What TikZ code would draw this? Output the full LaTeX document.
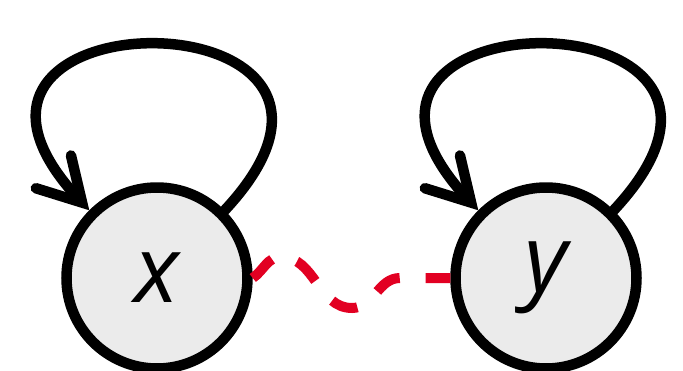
\documentclass[tikz,border=0pt]{standalone}
\usepackage{fontspec}
\newfontfamily\lblfont{Open Sans}
\usetikzlibrary{arrows.meta}
\definecolor{edgered}{RGB}{226,0,34}
\definecolor{nodegray}{RGB}{235,235,235}
\begin{document}
\begin{tikzpicture}[x=1pt,y=1pt,
  state/.style={circle, draw=black, line width=10.5pt, fill=nodegray, minimum size=181pt, inner sep=0pt, font=\lblfont\itshape\fontsize{93}{93}\selectfont},
  selfloop/.style={line width=10.5pt, line cap=round, -{Straight Barb[length=42pt,width=48pt,line cap=round]}},
  link/.style={draw=edgered, line width=10pt, dash pattern=on 27pt off 26pt}]
\useasboundingbox (0,0) rectangle (683,-370);
\node[state] (x) at (157,-278) {x};
\node[state] (y) at (546,-278) {y};
\draw[selfloop] (x.45) .. controls +(47:302) and +(133:302) .. (x.135);
\draw[selfloop] (y.45) .. controls +(47:302) and +(133:302) .. (y.135);
\coordinate (w1) at (281,-257);
\coordinate (w2) at (352,-308);
\coordinate (w3) at (400,-278);
\draw[link] (x.east) to[out=35,in=180] (w1) to[out=0,in=180] (w2) to[out=0,in=180] (w3) -- (y.west);
\end{tikzpicture}
\end{document}
